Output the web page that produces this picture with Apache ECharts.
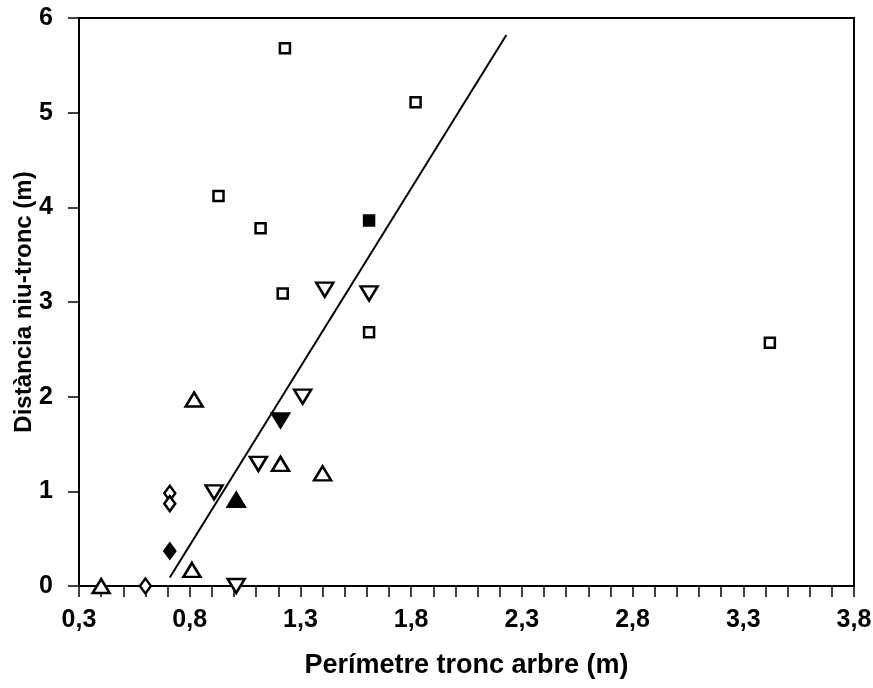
<!DOCTYPE html>
<html>
<head>
<meta charset="utf-8">
<script src="https://cdn.jsdelivr.net/npm/echarts@6/dist/echarts.min.js"></script>
<style>
html,body{margin:0;padding:0;background:#fff;}
#chart{width:873px;height:688px;}
</style>
</head>
<body>
<div id="chart"></div>
<script>
// ---- data ----
const xTickLabels = [0.3, 0.8, 1.3, 1.8, 2.3, 2.8, 3.3, 3.8];
const xMinorTicks = [0.3,0.4,0.5,0.6,0.7,0.8,0.9,1.0,1.1,1.2,1.3,1.4,1.5,1.6,1.7,1.8,1.9,2.0,2.1,2.2,2.3,2.4,2.5,2.6,2.7,2.8,2.9,3.0,3.1,3.2,3.3,3.4,3.5,3.6,3.7,3.8];
const yTickLabels = [0, 1, 2, 3, 4, 5, 6];

const squareOpenX = [1.23, 1.82, 0.93, 1.12, 1.22, 1.61, 3.42];
const squareOpenY = [5.68, 5.11, 4.12, 3.78, 3.09, 2.68, 2.57];
const squareFilledX = [1.61];
const squareFilledY = [3.86];

const triDownOpenX = [1.41, 1.61, 1.31, 1.11, 0.91, 1.01];
const triDownOpenY = [3.13, 3.09, 2.00, 1.29, 0.99, 0.00];
const triDownFilledX = [1.21];
const triDownFilledY = [1.75];

const triUpOpenX = [0.82, 1.21, 1.40, 0.81, 0.40];
const triUpOpenY = [1.97, 1.29, 1.19, 0.17, 0.00];
const triUpFilledX = [1.01];
const triUpFilledY = [0.91];

const diamondOpenX = [0.71, 0.71, 0.60];
const diamondOpenY = [0.98, 0.87, 0.00];
const diamondFilledX = [0.71];
const diamondFilledY = [0.37];

const fitLineX = [0.71, 2.23];
const fitLineY = [0.09, 5.82];

const xTitle = 'Perímetre tronc arbre (m)';
const yTitle = 'Distància niu-tronc (m)';

// ---- build ----
const zip = (xs, ys) => xs.map((x, i) => [x, ys[i]]);
const FONT = '"Liberation Sans", Arial, Helvetica, sans-serif';

function scatter(name, xs, ys, symbol, size, filled, rotate) {
  return {
    type: 'scatter', name: name, data: zip(xs, ys),
    symbol: symbol, symbolSize: size, symbolRotate: rotate || 0,
    clip: false, z: 5,
    itemStyle: {color: filled ? '#000' : '#fff', borderColor: '#000', borderWidth: 2.5, opacity: 1}
  };
}

const chart = echarts.init(document.getElementById('chart'), null, {renderer: 'canvas'});
chart.setOption({
  animation: false,
  backgroundColor: '#fff',
  grid: {left: 79, right: 19, top: 18, bottom: 102, show: true, borderColor: '#000', borderWidth: 2,
         containLabel: false, outerBoundsMode: 'none'},
  xAxis: {
    type: 'value', min: 0.3, max: 3.8,
    name: xTitle, nameLocation: 'middle', nameGap: 66,
    nameTextStyle: {fontFamily: FONT, fontWeight: 'bold', fontSize: 27, color: '#000'},
    axisLine: {show: true, onZero: false, lineStyle: {color: '#000', width: 2}},
    axisTick: {show: true, inside: false, length: 11, customValues: xMinorTicks, lineStyle: {color: '#000', width: 1.5}},
    axisLabel: {customValues: xTickLabels, margin: 22, fontFamily: FONT, fontWeight: 'bold', fontSize: 25, color: '#000',
      hideOverlap: false, formatter: v => v.toFixed(1).replace('.', ',')},
    splitLine: {show: false}
  },
  yAxis: {
    type: 'value', min: 0, max: 6, interval: 1,
    name: yTitle, nameLocation: 'middle', nameGap: 43, nameRotate: 90, nameMoveOverlap: false,
    nameTextStyle: {fontFamily: FONT, fontWeight: 'bold', fontSize: 24, color: '#000'},
    axisLine: {show: true, onZero: false, lineStyle: {color: '#000', width: 2}},
    axisTick: {show: true, inside: false, length: 11, lineStyle: {color: '#000', width: 1.5}},
    axisLabel: {margin: 26, fontFamily: FONT, fontWeight: 'bold', fontSize: 25, color: '#000',
      formatter: v => String(v)},
    splitLine: {show: false}
  },
  series: [
    {type: 'line', data: zip(fitLineX, fitLineY), symbol: 'none', z: 3,
     lineStyle: {color: '#000', width: 2}},
    scatter('sqOpen', squareOpenX, squareOpenY, 'rect', 10, false),
    scatter('sqFilled', squareFilledX, squareFilledY, 'rect', 10, true),
    scatter('triDownOpen', triDownOpenX, triDownOpenY, 'triangle', [17, 14], false, 180),
    scatter('triDownFilled', triDownFilledX, triDownFilledY, 'triangle', [17, 14], true, 180),
    scatter('triUpOpen', triUpOpenX, triUpOpenY, 'triangle', [17, 14], false),
    scatter('triUpFilled', triUpFilledX, triUpFilledY, 'triangle', [17, 14], true),
    scatter('diaOpen', diamondOpenX, diamondOpenY, 'diamond', [11, 15], false),
    scatter('diaFilled', diamondFilledX, diamondFilledY, 'diamond', [11, 15], true)
  ]
});
</script>
</body>
</html>
